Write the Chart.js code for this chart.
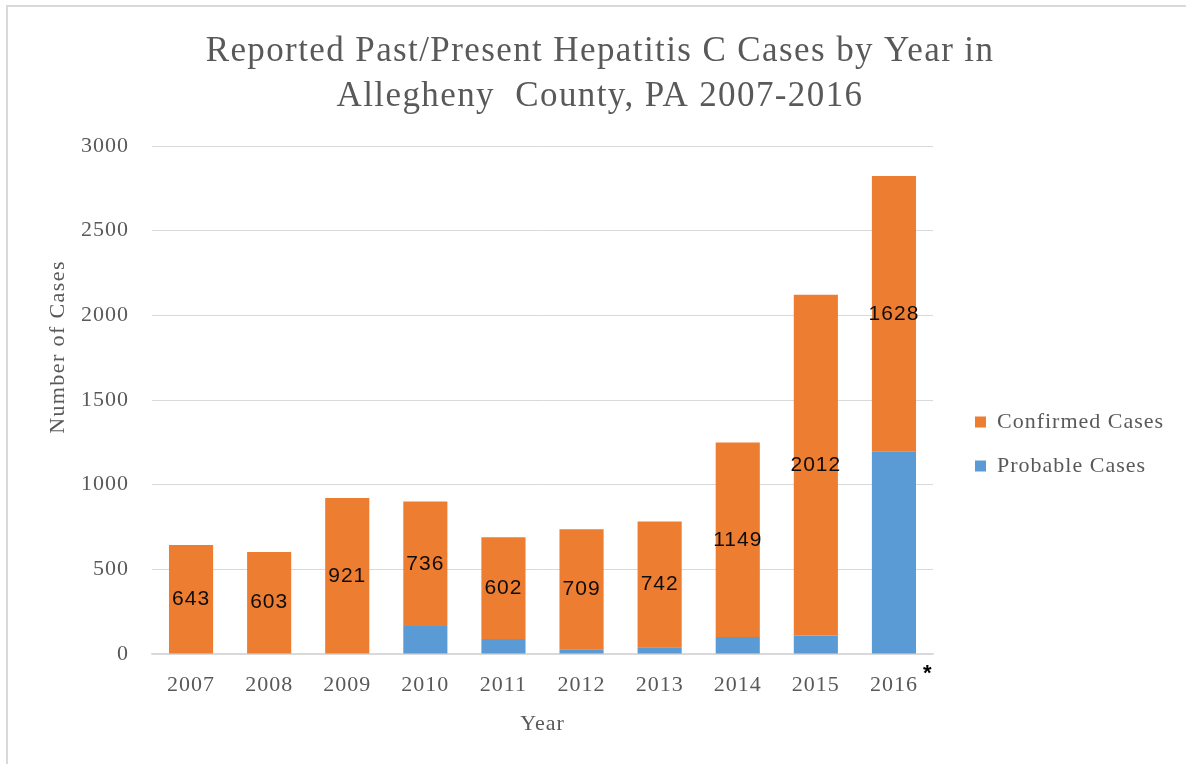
<!DOCTYPE html>
<html>
<head>
<meta charset="utf-8">
<script src="https://cdn.jsdelivr.net/npm/chart.js@4.4.0/dist/chart.umd.min.js"></script>
<style>
  body { margin: 0; background: #ffffff; }
  #wrap { position: relative; width: 1186px; height: 764px; }
  #frame {
    position: absolute; left: 6px; top: 5px; right: 0; bottom: 0;
    border-left: 2px solid #d9d9d9; border-top: 2px solid #d9d9d9;
  }
  #hepC { position: absolute; left: 0; top: 0; }
</style>
</head>
<body>
<div id="wrap">
  <div id="frame"></div>
  <canvas id="hepC" width="1186" height="764"></canvas>
</div>
<script>
const years = ["2007", "2008", "2009", "2010", "2011", "2012", "2013", "2014", "2015", "2016"];
const confirmedCases = [643, 603, 921, 736, 602, 709, 742, 1149, 2012, 1628];
const probableCases = [0, 0, 0, 165, 88, 28, 40, 100, 109, 1195];
const yTicks = [0, 500, 1000, 1500, 2000, 2500, 3000];

const serif = '"Liberation Serif", "Times New Roman", serif';
const grey = '#595959';

// the legend column gets a fixed width and sits a little lower and further right
const legendSpacer = {
  id: 'legendSpacer',
  beforeLayout(chart) {
    const lg = chart.legend;
    if (lg && !lg._fixedFit) {
      const fit = lg.fit;
      lg.fit = function () { fit.call(this); this.width = 253; };
      lg._fixedFit = true;
    }
    const tb = chart.titleBlock;
    if (tb && !tb._spaced) {
      const draw = tb.draw;
      tb.draw = function () {
        const ctx = this.ctx;
        const prev = ctx.letterSpacing;
        ctx.letterSpacing = '1.4px';
        draw.call(this);
        ctx.letterSpacing = prev;
      };
      tb._spaced = true;
    }
  },
  afterLayout(chart) {
    chart.legend.left += 20;
    chart.legend.right += 20;
    chart.legend.top += 75;
    chart.legend.bottom += 75;
  },
  beforeDraw(chart) {
    chart.ctx.letterSpacing = '1px';
  }
};

// value labels in the middle of each confirmed segment, plus the y title and footnote mark
const extras = {
  id: 'extras',
  afterDatasetsDraw(chart) {
    const ctx = chart.ctx;
    const idx = chart.data.datasets.findIndex(d => d.label === 'Confirmed Cases');
    const meta = chart.getDatasetMeta(idx);
    ctx.save();
    ctx.font = '21px "Liberation Sans", Arial, sans-serif';
    ctx.fillStyle = '#0d0d0d';
    ctx.textAlign = 'center';
    ctx.textBaseline = 'middle';
    meta.data.forEach((bar, i) => {
      const p = bar.getProps(['x', 'y', 'base'], true);
      ctx.fillText(String(confirmedCases[i]), p.x, (p.y + p.base) / 2);
    });
    ctx.restore();
  },
  afterDraw(chart) {
    const ctx = chart.ctx;
    ctx.save();
    ctx.translate(58, 347);
    ctx.rotate(-Math.PI / 2);
    ctx.font = '22px ' + serif;
    ctx.fillStyle = grey;
    ctx.textAlign = 'center';
    ctx.textBaseline = 'middle';
    ctx.letterSpacing = '1.4px';
    ctx.fillText('Number of Cases', 0, 0);
    ctx.restore();

    const xs = chart.scales.x;
    ctx.save();
    ctx.font = 'bold 22px "Liberation Sans", Arial, sans-serif';
    ctx.fillStyle = '#000000';
    ctx.textAlign = 'left';
    ctx.textBaseline = 'middle';
    ctx.fillText('*', xs.getPixelForValue(years.length - 1) + 29, 674);
    ctx.restore();
  }
};

new Chart(document.getElementById('hepC'), {
  type: 'bar',
  data: {
    labels: years,
    datasets: [
      {
        label: 'Probable Cases',
        data: probableCases,
        backgroundColor: '#5b9bd5',
        borderWidth: 0,
        barPercentage: 0.565,
        categoryPercentage: 1
      },
      {
        label: 'Confirmed Cases',
        data: confirmedCases,
        backgroundColor: '#ed7d31',
        borderWidth: 0,
        barPercentage: 0.565,
        categoryPercentage: 1
      }
    ]
  },
  options: {
    responsive: false,
    animation: false,
    layout: { padding: { left: 14, right: 0, top: 0, bottom: 26 } },
    plugins: {
      tooltip: { enabled: false },
      title: {
        display: true,
        text: ['Reported Past/Present Hepatitis C Cases by Year in', 'Allegheny  County, PA 2007-2016'],
        color: grey,
        font: { family: serif, size: 35, weight: 'normal', lineHeight: 45 / 35 },
        padding: { top: 29.5, bottom: 26.5 }
      },
      legend: {
        display: true,
        position: 'right',
        reverse: true,
        labels: {
          color: grey,
          boxWidth: 11,
          boxHeight: 11,
          padding: 22,
          font: { family: serif, size: 22 }
        }
      }
    },
    scales: {
      x: {
        stacked: true,
        grid: { display: false },
        border: { display: true, color: '#d9d9d9', width: 1.5 },
        ticks: { color: grey, font: { family: serif, size: 22 }, padding: 10 },
        title: {
          display: true,
          text: 'Year',
          color: grey,
          font: { family: serif, size: 22, lineHeight: 1.2 },
          padding: { top: 0, bottom: 1 }
        },
        afterFit(scale) { scale.height = 84; }
      },
      y: {
        stacked: true,
        min: 0,
        max: 3000,
        grid: { color: '#d9d9d9', lineWidth: 1, drawTicks: false },
        border: { display: false },
        afterBuildTicks(scale) { scale.ticks = yTicks.map(v => ({ value: v })); },
        ticks: {
          color: grey,
          font: { family: serif, size: 22 },
          padding: 23,
          callback: v => String(v)
        },
        afterFit(scale) { scale.width = 138; }
      }
    }
  },
  plugins: [legendSpacer, extras]
});
</script>
</body>
</html>
